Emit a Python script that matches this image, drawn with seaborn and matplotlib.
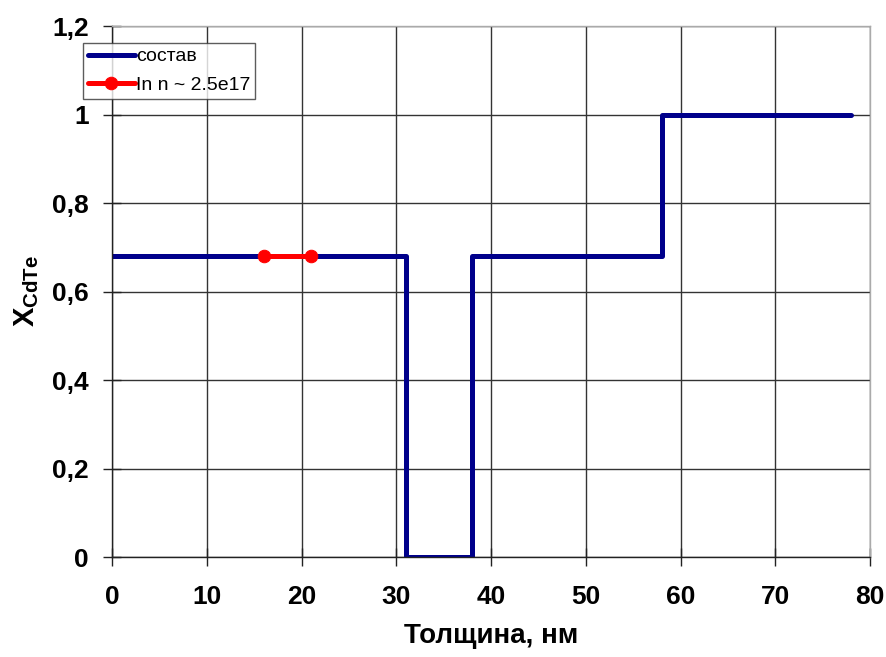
import matplotlib.pyplot as plt
import seaborn as sns
import pandas as pd

# composition profile (step), nm vs x_CdTe
thickness = [0, 31, 31, 38, 38, 58, 58, 78]
x_cdte = [0.68, 0.68, 0.0, 0.0, 0.68, 0.68, 1.0, 1.0]

# In doped region
in_thickness = [16, 21]
in_x = [0.68, 0.68]

sns.set_style("white")
plt.rcParams['font.family'] = ['Liberation Sans', 'DejaVu Sans']
plt.rcParams['text.color'] = 'black'
plt.rcParams['axes.labelcolor'] = 'black'
plt.rcParams['xtick.color'] = 'black'
plt.rcParams['ytick.color'] = 'black'

df = pd.DataFrame({"t": thickness, "x": x_cdte})
df_in = pd.DataFrame({"t": in_thickness, "x": in_x})

fig, ax = plt.subplots(figsize=(8.86, 6.57), dpi=100)
fig.subplots_adjust(left=0.1264, right=0.982, top=0.9604, bottom=0.1522)

sns.lineplot(data=df, x="t", y="x", sort=False, estimator=None,
             color="#00008B", lw=3.6, label="состав", ax=ax)
sns.lineplot(data=df_in, x="t", y="x", sort=False, estimator=None,
             color="red", lw=3.6, marker="o", markersize=9,
             markeredgecolor="red", label="In n ~ 2.5e17", ax=ax)

ax.set_xlim(0, 80)
ax.set_ylim(0, 1.2)
ax.set_xticks(range(0, 81, 10))
ax.set_yticks([0, 0.2, 0.4, 0.6, 0.8, 1.0, 1.2])
ax.set_yticklabels(["0", "0,2", "0,4", "0,6", "0,8", "1", "1,2"])
ax.grid(True, color="#333333", lw=1.0)
ax.set_axisbelow(True)

for s in ["left", "bottom"]:
    ax.spines[s].set_color("#222222")
    ax.spines[s].set_linewidth(1.0)
for s in ["top", "right"]:
    ax.spines[s].set_color("#aaaaaa")
    ax.spines[s].set_linewidth(1.0)

ax.tick_params(axis="both", which="major", direction="inout", length=13,
               width=1.0, color="#222222", labelsize=19,
               bottom=True, left=True)
ax.tick_params(axis="x", pad=14)
ax.tick_params(axis="y", pad=10)
for lab in ax.get_xticklabels() + ax.get_yticklabels():
    lab.set_fontweight("bold")

ax.set_xlabel("Толщина, нм", fontsize=20, fontweight="bold", labelpad=10)
ax.set_ylabel(r"X$_{\mathregular{CdTe}}$", fontsize=21, fontweight="bold", labelpad=8)

leg = ax.legend(loc="upper left", bbox_to_anchor=(-0.038, 0.968), fontsize=14,
                frameon=True, fancybox=False, edgecolor="#333333",
                borderpad=0.25, labelspacing=0.55, handlelength=2.4,
                handletextpad=0.05, borderaxespad=0)
leg.get_frame().set_linewidth(1.0)

fig.savefig("out.png", dpi=100)
